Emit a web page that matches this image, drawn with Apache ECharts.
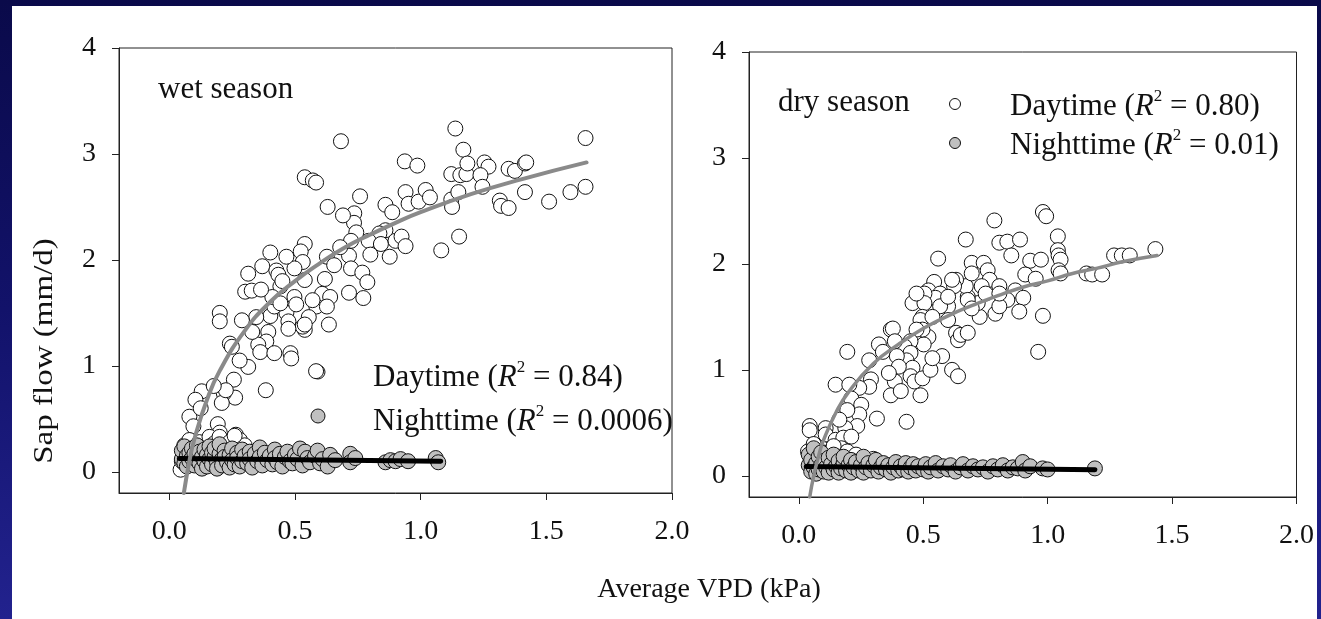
<!DOCTYPE html>
<html>
<head>
<meta charset="utf-8">
<script src="https://cdn.jsdelivr.net/npm/echarts@6/dist/echarts.min.js"></script>
<style>
html,body{margin:0;padding:0;width:1321px;height:619px;overflow:hidden;}
body{background:linear-gradient(to bottom,#0a0a4a 0%,#12126a 50%,#22228e 100%);position:relative;}
#chart{position:absolute;left:12px;top:6px;width:1305px;height:613px;background:#ffffff;}
</style>
</head>
<body>
<div id="chart"></div>
<script>
// ---- tick labels ----
const xTicks = [0, 0.5, 1.0, 1.5, 2.0];
const yTicks = [0, 1, 2, 3, 4];

// ---- wet season ----
const wetDay = [
[1.138,3.24],[0.683,3.12],[1.656,3.15],[1.656,2.69],[1.170,3.04],[0.937,2.93],[0.987,2.89],[1.122,2.81],
[1.158,2.80],[1.182,2.81],[1.186,2.91],[1.254,2.92],[1.27,2.88],[1.238,2.80],[1.246,2.69],[1.35,2.86],
[1.375,2.84],[1.415,2.91],[1.42,2.92],[1.415,2.64],[1.511,2.55],[1.596,2.64],[1.315,2.56],[1.32,2.51],
[1.35,2.49],[1.122,2.57],[1.125,2.50],[1.15,2.64],[1.153,2.22],[1.082,2.09],[0.539,2.78],[0.571,2.75],
[0.584,2.73],[0.630,2.50],[0.759,2.60],[0.736,2.44],[0.735,2.35],[0.744,2.26],[0.860,2.52],[0.887,2.45],
[0.860,2.28],[0.836,2.25],[0.793,2.18],[0.842,2.15],[0.900,2.18],[0.924,2.22],[0.940,2.13],[0.877,2.03],
[0.940,2.64],[0.952,2.53],[0.992,2.55],[1.02,2.66],[1.037,2.59],[0.723,2.18],[0.715,2.04],[0.723,1.92],
[0.768,1.88],[0.788,1.79],[0.772,1.64],[0.715,1.69],[0.627,2.03],[0.656,1.95],[0.619,1.82],[0.608,1.68],
[0.640,1.65],[0.585,1.56],[0.627,1.56],[0.635,1.39],[0.539,2.15],[0.523,2.08],[0.531,1.98],[0.498,1.92],
[0.466,2.03],[0.402,2.07],[0.370,1.94],[0.426,1.90],[0.434,1.86],[0.442,1.75],[0.498,1.65],[0.539,1.81],
[0.555,1.46],[0.539,1.34],[0.531,1.37],[0.466,1.50],[0.474,1.42],[0.474,1.35],[0.402,1.47],[0.418,1.56],
[0.410,1.65],[0.442,1.59],[0.314,1.87],[0.302,1.70],[0.328,1.71],[0.346,1.46],[0.289,1.43],[0.201,1.50],
[0.201,1.42],[0.241,1.21],[0.249,1.18],[0.394,1.32],[0.386,1.23],[0.354,1.20],[0.362,1.13],[0.418,1.12],
[0.482,1.12],[0.485,1.07],[0.314,0.99],[0.539,1.39],[0.584,0.95],[0.384,0.77],[0.257,0.87],[0.262,0.70],
[0.217,0.74],[0.209,0.65],[0.225,0.77],[0.129,0.76],[0.104,0.68],[0.080,0.52],[0.125,0.60],[0.193,0.45],
[0.201,0.37],[0.265,0.35],[0.281,0.30],[0.096,0.43],[0.177,0.81],[0.691,2.42],[0.365,1.72],[0.45,1.80],
[0.505,1.58],[0.57,1.62],[0.68,2.12],[0.80,2.05],[0.33,1.32],[0.28,1.05],
[0.045,0.02],[0.05,0.1],[0.055,0.2],[0.06,0.25],[0.08,0.3],[0.09,0.15],[0.11,0.08],[0.12,0.28],
[0.14,0.22],[0.16,0.33],[0.18,0.27],[0.2,0.33],[0.22,0.1],[0.24,0.28],[0.27,0.2],[0.3,0.25],
[0.32,0.16],[0.26,0.34]
];
const wetNight = [
[0.05,0.12],[0.05,0.2],[0.06,0.08],[0.06,0.24],[0.07,0.15],[0.07,0.05],[0.08,0.18],[0.08,0.1],
[0.09,0.22],[0.09,0.13],[0.1,0.06],[0.1,0.17],[0.11,0.25],[0.11,0.11],[0.12,0.19],[0.12,0.08],
[0.13,0.14],[0.13,0.03],[0.14,0.21],[0.14,0.1],[0.15,0.16],[0.15,0.05],[0.16,0.24],[0.16,0.12],
[0.17,0.18],[0.17,0.07],[0.18,0.14],[0.18,0.22],[0.19,0.09],[0.19,0.03],[0.2,0.17],[0.2,0.26],
[0.21,0.12],[0.21,0.06],[0.22,0.2],[0.22,0.14],[0.23,0.09],[0.24,0.16],[0.24,0.04],[0.25,0.22],
[0.25,0.11],[0.26,0.07],[0.27,0.18],[0.27,0.13],[0.28,0.05],[0.29,0.21],[0.29,0.1],[0.3,0.15],
[0.31,0.08],[0.32,0.19],[0.32,0.12],[0.33,0.04],[0.34,0.17],[0.35,0.1],[0.36,0.23],[0.36,0.14],
[0.37,0.06],[0.38,0.18],[0.39,0.11],[0.4,0.15],[0.41,0.07],[0.42,0.21],[0.42,0.13],[0.43,0.09],
[0.44,0.17],[0.45,0.05],[0.46,0.14],[0.47,0.19],[0.48,0.1],[0.49,0.08],[0.5,0.16],[0.51,0.12],
[0.52,0.22],[0.53,0.06],[0.54,0.19],[0.55,0.13],[0.56,0.09],[0.58,0.15],[0.59,0.2],[0.6,0.08],
[0.61,0.12],[0.63,0.05],[0.64,0.16],[0.66,0.11],[0.72,0.17],[0.72,0.09],[0.74,0.13],[0.86,0.09],
[0.88,0.11],[0.9,0.1],[0.92,0.12],[0.95,0.1],[1.06,0.13],[1.07,0.09]
];
const wetDayFit = [
[0.058,-0.2],[0.08,0.1],[0.1,0.31],[0.15,0.68],[0.2,0.95],[0.3,1.33],[0.4,1.6],[0.5,1.8],
[0.6,1.97],[0.7,2.12],[0.8,2.24],[0.9,2.35],[1.0,2.45],[1.2,2.62],[1.4,2.76],[1.66,2.92]
];
const wetNightFit = [[0.04,0.125],[1.08,0.10]];

// ---- dry season ----
const dryDay = [
[0.981,2.49],[0.994,2.45],[0.786,2.41],[0.671,2.23],[0.806,2.20],[0.838,2.21],[0.889,2.23],[0.854,2.08],
[1.041,2.26],[1.041,2.13],[1.044,2.08],[1.052,2.04],[1.044,1.94],[1.052,1.91],[1.267,2.08],[1.298,2.08],
[1.33,2.08],[1.433,2.14],[1.156,1.91],[1.179,1.90],[1.219,1.90],[0.930,2.03],[0.973,2.04],[0.910,1.90],
[0.952,1.86],[0.981,1.51],[0.962,1.17],[0.560,2.05],[0.695,2.01],[0.743,2.01],[0.759,1.94],[0.767,1.85],
[0.806,1.79],[0.870,1.75],[0.902,1.68],[0.838,1.66],[0.790,1.53],[0.727,1.50],[0.719,1.63],[0.679,1.69],
[0.671,1.79],[0.632,1.85],[0.624,1.79],[0.616,1.85],[0.544,1.83],[0.521,1.75],[0.568,1.72],[0.549,1.68],
[0.6,1.60],[0.568,1.60],[0.505,1.72],[0.457,1.63],[0.505,1.63],[0.497,1.50],[0.489,1.47],[0.537,1.50],
[0.6,1.47],[0.679,1.66],[0.632,1.35],[0.640,1.28],[0.651,1.33],[0.679,1.35],[0.886,1.55],[0.806,1.60],
[0.616,1.00],[0.640,0.94],[0.576,1.13],[0.521,1.31],[0.502,1.24],[0.497,1.38],[0.473,1.38],[0.449,1.27],
[0.425,1.22],[0.449,1.16],[0.433,1.09],[0.457,1.02],[0.449,0.94],[0.465,0.89],[0.489,0.76],[0.497,0.92],
[0.529,1.00],[0.537,1.11],[0.370,1.38],[0.378,1.39],[0.322,1.24],[0.338,1.17],[0.386,1.27],[0.394,1.13],
[0.402,1.03],[0.386,0.89],[0.370,0.76],[0.410,0.80],[0.362,0.97],[0.283,1.09],[0.290,0.91],[0.283,0.84],
[0.243,0.83],[0.195,1.17],[0.148,0.86],[0.203,0.86],[0.211,0.73],[0.251,0.67],[0.243,0.58],[0.235,0.47],
[0.187,0.45],[0.314,0.54],[0.433,0.51],[0.195,0.62],[0.163,0.53],[0.108,0.45],[0.108,0.39],[0.044,0.47],
[0.044,0.43],[0.148,0.34],[0.179,0.36],[0.211,0.37],[0.171,0.26],[0.195,0.23],[0.037,0.23],[0.060,0.18],
[0.092,0.26],[0.735,1.79],[0.751,1.72],[0.806,1.72],[0.695,1.91],[0.695,1.58],[0.6,1.69],[0.473,1.72],
[0.05,0.1],[0.06,0.3],[0.08,0.15],[0.1,0.22],[0.12,0.12],[0.14,0.28],[0.16,0.18],[0.2,0.14],
[0.23,0.2],[0.26,0.12],[0.3,0.16]
];
const dryNight = [
[0.04,0.1],[0.04,0.2],[0.05,0.04],[0.05,0.15],[0.06,0.08],[0.06,0.26],[0.07,0.12],[0.07,0.02],
[0.08,0.18],[0.08,0.06],[0.09,0.1],[0.09,0.22],[0.1,0.04],[0.1,0.14],[0.11,0.08],[0.12,0.17],
[0.12,0.03],[0.13,0.11],[0.14,0.06],[0.14,0.2],[0.15,0.09],[0.16,0.14],[0.16,0.03],[0.17,0.07],
[0.18,0.12],[0.18,0.18],[0.19,0.05],[0.2,0.1],[0.21,0.15],[0.21,0.03],[0.22,0.08],[0.23,0.13],
[0.24,0.05],[0.25,0.1],[0.26,0.18],[0.26,0.03],[0.27,0.08],[0.28,0.12],[0.29,0.05],[0.3,0.1],
[0.31,0.15],[0.32,0.04],[0.33,0.08],[0.34,0.12],[0.35,0.06],[0.36,0.1],[0.37,0.03],[0.38,0.08],
[0.39,0.13],[0.4,0.05],[0.41,0.09],[0.42,0.06],[0.43,0.12],[0.44,0.04],[0.45,0.08],[0.46,0.11],
[0.47,0.05],[0.48,0.09],[0.5,0.06],[0.51,0.11],[0.52,0.04],[0.53,0.08],[0.55,0.12],[0.56,0.05],
[0.58,0.09],[0.6,0.06],[0.61,0.1],[0.63,0.04],[0.65,0.08],[0.66,0.11],[0.68,0.05],[0.7,0.09],
[0.72,0.06],[0.74,0.08],[0.76,0.04],[0.78,0.09],[0.8,0.06],[0.82,0.1],[0.84,0.05],[0.86,0.08],
[0.88,0.07],[0.9,0.13],[0.91,0.05],[0.93,0.09],[0.98,0.07],[1.0,0.06],[1.19,0.07]
];
const dryDayFit = [
[0.044,-0.2],[0.06,0.0],[0.08,0.19],[0.1,0.34],[0.15,0.6],[0.2,0.79],[0.3,1.06],[0.4,1.24],
[0.5,1.39],[0.6,1.51],[0.7,1.61],[0.8,1.7],[0.9,1.78],[1.0,1.84],[1.1,1.91],[1.2,1.96],[1.3,2.02],[1.44,2.08]
];
const dryNightFit = [[0.03,0.088],[1.19,0.057]];

// ---- texts ----
const panelTitles = ['wet season', 'dry season'];
const wetR2 = ['0.84', '0.0006'];
const dryR2 = ['0.80', '0.01'];
const xTitle = 'Average VPD (kPa)';
const yTitle = 'Sap flow (mm/d)';

const FONT = "'Liberation Serif','Times New Roman',serif";
const TXT = '#111';
const LFS = 31;

function xAxisFor(i){
  return {
    type:'value', gridIndex:i, min:-0.2, max:2.0,
    axisLine:{show:true, onZero:false, lineStyle:{color:'#222', width:1}},
    axisTick:{show:true, inside:false, length:7, customValues:xTicks, lineStyle:{color:'#222'}},
    axisLabel:{show:true, customValues:xTicks, margin:25, fontFamily:FONT, fontSize:28, color:TXT,
      formatter:v=>Number(v).toFixed(1)},
    splitLine:{show:false}
  };
}
function yAxisFor(i){
  return {
    type:'value', gridIndex:i, min:-0.2, max:4,
    axisLine:{show:true, onZero:false, lineStyle:{color:'#222', width:1}},
    axisTick:{show:true, inside:false, length:7, customValues:yTicks, lineStyle:{color:'#222'}},
    axisLabel:{show:true, customValues:yTicks, margin:23, fontFamily:FONT, fontSize:28, color:TXT,
      formatter:v=>String(Math.round(v))},
    splitLine:{show:false}
  };
}
function scatter(name, i, data, fill, z){
  return {name, type:'scatter', xAxisIndex:i, yAxisIndex:i, data, symbol:'circle', symbolSize:15, z,
    itemStyle:{color:fill, borderColor:'#111', borderWidth:1, opacity:1}, silent:true};
}
function fit(name, i, data, color, width, z){
  return {name, type:'line', xAxisIndex:i, yAxisIndex:i, data, smooth:true, showSymbol:false, z,
    lineStyle:{color, width, cap:'round'}, silent:true};
}
function legendText(label, r2){
  return '{n|' + label + ' (}{i|R}{s|2}{n| = ' + r2 + ')}';
}
const rich = {
  n:{fontFamily:FONT, fontSize:LFS, fill:TXT, lineHeight:36, verticalAlign:'bottom'},
  i:{fontFamily:FONT, fontSize:LFS, fontStyle:'italic', fill:TXT, lineHeight:36, verticalAlign:'bottom'},
  s:{fontFamily:FONT, fontSize:17, fill:TXT, lineHeight:36, verticalAlign:'top', padding:[2,0,0,0]}
};
function legendGroup(cx, cy1, cy2, tx, ty1, ty2, r, r2s){
  return [
    {type:'circle', shape:{cx:cx, cy:cy1, r:r}, style:{fill:'#fff', stroke:'#111', lineWidth:1}},
    {type:'circle', shape:{cx:cx, cy:cy2, r:r}, style:{fill:'#c0c0c0', stroke:'#111', lineWidth:1}},
    {type:'text', x:tx, y:ty1, style:{text:legendText('Daytime', r2s[0]), rich, align:'left', verticalAlign:'middle', fill:TXT, font:LFS+"px "+FONT}},
    {type:'text', x:tx, y:ty2, style:{text:legendText('Nighttime', r2s[1]), rich, align:'left', verticalAlign:'middle', fill:TXT, font:LFS+"px "+FONT}}
  ];
}

const chart = echarts.init(document.getElementById('chart'), null, {renderer:'canvas'});
chart.setOption({
  backgroundColor:'#ffffff',
  animation:false,
  grid:[
    {left:107, top:42, width:553, height:445, show:true, borderColor:'#222', borderWidth:1, backgroundColor:'transparent'},
    {left:737, top:46, width:553, height:445, show:true, borderColor:'#222', borderWidth:1, backgroundColor:'transparent'}
  ],
  xAxis:[xAxisFor(0), xAxisFor(1)],
  yAxis:[yAxisFor(0), yAxisFor(1)],
  series:[
    scatter('Daytime', 0, wetDay, '#ffffff', 2),
    scatter('Nighttime', 0, wetNight, '#c0c0c0', 3),
    fit('Nighttime fit', 0, wetNightFit, '#000000', 5, 4),
    fit('Daytime fit', 0, wetDayFit, '#8a8a8a', 4, 5),
    scatter('Daytime', 1, dryDay, '#ffffff', 2),
    scatter('Nighttime', 1, dryNight, '#c0c0c0', 3),
    fit('Nighttime fit', 1, dryNightFit, '#000000', 5, 4),
    fit('Daytime fit', 1, dryDayFit, '#8a8a8a', 3.5, 5)
  ],
  graphic:[
    {type:'text', x:146, y:84, style:{text:panelTitles[0], fill:TXT, font:"31px "+FONT, align:'left', verticalAlign:'middle'}},
    {type:'text', x:766, y:97, style:{text:panelTitles[1], fill:TXT, font:"31px "+FONT, align:'left', verticalAlign:'middle'}},
    ...legendGroup(306, 366, 410, 361, 369, 413, 7, wetR2),
    ...legendGroup(943, 98, 137, 998, 98, 137, 5.5, dryR2),
    {type:'text', x:697, y:584, style:{text:xTitle, fill:TXT, font:"28px "+FONT, align:'center', verticalAlign:'middle'}},
    {type:'text', x:33, y:345, rotation:Math.PI/2, scaleX:1.18, style:{text:yTitle, fill:TXT, font:"28px "+FONT, align:'center', verticalAlign:'middle'}}
  ]
});
</script>
</body>
</html>
